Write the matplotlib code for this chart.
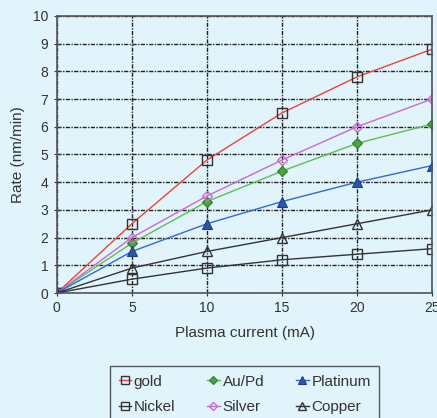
import matplotlib
matplotlib.use('Agg')
import matplotlib.pyplot as plt

plt.rcParams['font.family'] = ['Liberation Sans', 'DejaVu Sans']

current = [0, 5, 10, 15, 20, 25]
gold = [0, 2.5, 4.8, 6.5, 7.8, 8.8]
aupd = [0, 1.8, 3.3, 4.4, 5.4, 6.1]
platinum = [0, 1.5, 2.5, 3.3, 4.0, 4.6]
nickel = [0, 0.5, 0.9, 1.2, 1.4, 1.6]
silver = [0, 2.0, 3.5, 4.8, 6.0, 7.0]
copper = [0, 0.9, 1.5, 2.0, 2.5, 3.0]

bg = '#e1f3fb'
fig = plt.figure(figsize=(4.37, 4.18), dpi=100, facecolor=bg)
ax = fig.add_axes([0.130, 0.299, 0.859, 0.663], facecolor=bg)

ms = 7
h_gold, = ax.plot(current, gold, color='#e8443a', lw=1, marker='s', ms=ms,
                  mfc='none', mec='#333333', mew=1, label='gold')
h_nick, = ax.plot(current, nickel, color='#333333', lw=1, marker='s', ms=ms,
                  mfc='none', mec='#333333', mew=1, label='Nickel')
h_aupd, = ax.plot(current, aupd, color='#5cc14a', lw=1, marker='D', ms=5.5,
                  mfc='#4aa63a', mec='#2f7a2a', mew=0.8, label='Au/Pd')
h_silv, = ax.plot(current, silver, color='#c86ad0', lw=1, marker='D', ms=5.5,
                  mfc='none', mec='#c86ad0', mew=1, label='Silver')
h_plat, = ax.plot(current, platinum, color='#2f6ad0', lw=1, marker='^', ms=ms,
                  mfc='#2a58a8', mec='#1c3f80', mew=0.8, label='Platinum')
h_copp, = ax.plot(current, copper, color='#333333', lw=1, marker='^', ms=ms,
                  mfc='none', mec='#333333', mew=1, label='Copper')

ax.set_xlim(0, 25)
ax.set_ylim(0, 10)
ax.set_xticks(range(0, 26, 5))
ax.set_yticks(range(0, 11))
ax.grid(True, color='#222222', linestyle=(0, (3, 1, 1, 1)), lw=1)
ax.set_axisbelow(True)
for s in ax.spines.values():
    s.set_color('#555555')
    s.set_linewidth(1.2)
ax.tick_params(direction='inout', length=5, colors='#333333', labelsize=10)
ax.set_xlabel('Plasma current (mA)', fontsize=11, color='#333333', labelpad=8)
ax.set_ylabel('Rate (nm/min)', fontsize=11, color='#333333', labelpad=6)

leg = fig.legend(handles=[h_gold, h_nick, h_aupd, h_silv, h_plat, h_copp],
                 ncol=3, loc='upper left', bbox_to_anchor=(0.252, 0.124),
                 bbox_transform=fig.transFigure, frameon=True, fancybox=False,
                 facecolor=bg, edgecolor='#333333', fontsize=11,
                 handlelength=0.8, handletextpad=0.2, columnspacing=2.1,
                 markerscale=0.8, labelspacing=0.75, borderpad=0.55,
                 borderaxespad=0)
for t in leg.get_texts():
    t.set_color('#333333')

fig.savefig('out.png', dpi=100, facecolor=bg)
